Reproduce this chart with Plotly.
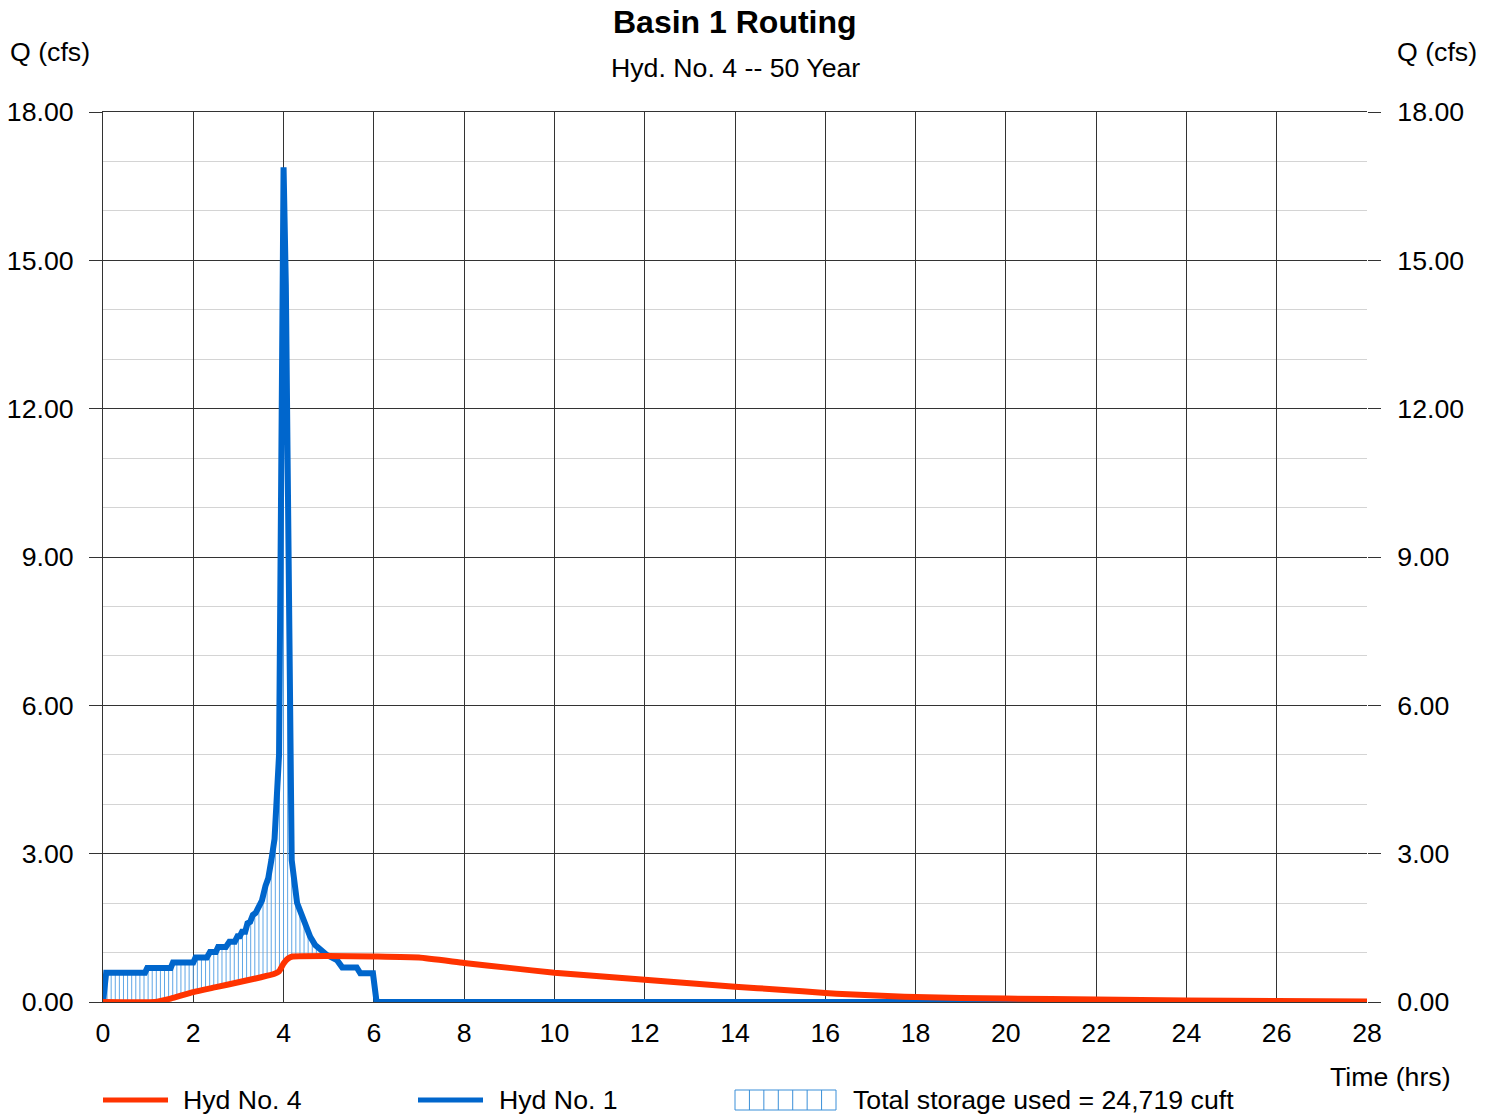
import numpy as np
import plotly.graph_objects as go

# ---------------- data ----------------
# Hyd No. 1 (inflow)
inflow_t = [0.00, 0.07, 0.93, 0.98, 1.50, 1.55, 2.00, 2.05, 2.30, 2.37, 2.50, 2.55, 2.72, 2.80,
            2.92, 2.98, 3.03, 3.08, 3.15, 3.20, 3.26, 3.32, 3.38, 3.45, 3.52, 3.60, 3.66, 3.73,
            3.80, 3.90, 4.00, 4.05, 4.10, 4.12, 4.14, 4.18, 4.30, 4.36, 4.45, 4.59, 4.70, 4.81,
            4.96, 5.18, 5.30, 5.62, 5.70, 5.98, 6.06, 28.00]
inflow_q = [0.00, 0.59, 0.59, 0.69, 0.69, 0.80, 0.80, 0.90, 0.90, 1.01, 1.01, 1.11, 1.11, 1.22,
            1.22, 1.33, 1.33, 1.42, 1.42, 1.59, 1.62, 1.76, 1.80, 1.95, 2.05, 2.35, 2.50, 2.87,
            3.30, 5.00, 16.88, 14.50, 10.00, 6.00, 4.00, 2.87, 2.00, 1.86, 1.60, 1.32, 1.15, 1.05,
            0.95, 0.85, 0.70, 0.70, 0.58, 0.58, 0.00, 0.00]

# Hyd No. 4 (outflow)
outflow_t = [0.0, 1.15, 1.5, 2.0, 2.5, 3.0, 3.5, 3.8, 3.9, 4.0, 4.1, 4.2, 5.0, 6.0, 7.0, 8.0, 9.0,
             10.0, 11.0, 12.0, 13.0, 14.0, 15.0, 16.0, 16.5, 17.0, 17.5, 18.0, 19.0, 20.0, 22.0,
             24.0, 26.0, 28.0]
outflow_q = [0.00, 0.00, 0.07, 0.20, 0.30, 0.40, 0.50, 0.57, 0.62, 0.78, 0.88, 0.92, 0.93, 0.92,
             0.90, 0.79, 0.69, 0.59, 0.52, 0.45, 0.38, 0.31, 0.25, 0.18, 0.155, 0.135, 0.115, 0.10,
             0.08, 0.07, 0.05, 0.03, 0.02, 0.01]

x_ticks = list(range(0, 29, 2))
y_ticks = [0, 3, 6, 9, 12, 15, 18]

title_text = "<b>Basin 1 Routing</b>"
subtitle_text = "Hyd. No. 4 -- 50 Year"
storage_label = "Total storage used = 24,719 cuft"

RED = "#ff3300"
BLUE = "#0066cc"
HATCH = "#5fa6e6"
FONT = "Liberation Sans, Arial, sans-serif"
FS = 26.7

# ---------------- hatch (storage) ----------------
hatch_times = np.arange(0.09, 4.95, 1 / 11)
hi = np.interp(hatch_times, inflow_t, inflow_q)
ho = np.interp(hatch_times, outflow_t, outflow_q)
hx, hy = [], []
for t, a, b in zip(hatch_times, ho, hi):
    if b > a:
        hx += [t, t, None]
        hy += [a, b, None]

fig = go.Figure()
fig.add_trace(go.Scatter(x=hx, y=hy, mode="lines", line=dict(color=HATCH, width=1),
                         hoverinfo="skip", showlegend=False))
fig.add_trace(go.Scatter(x=inflow_t, y=inflow_q, mode="lines", name="Hyd No. 1",
                         line=dict(color=BLUE, width=6), showlegend=False))
fig.add_trace(go.Scatter(x=outflow_t, y=outflow_q, mode="lines", name="Hyd No. 4",
                         line=dict(color=RED, width=6, shape="spline", smoothing=0.4),
                         showlegend=False))
# invisible trace for the right axis
fig.add_trace(go.Scatter(x=[0, 28], y=[0, 18], yaxis="y2", mode="lines",
                         line=dict(width=0), opacity=0, hoverinfo="skip", showlegend=False))

L, R, T, B = 103, 1367, 112, 1002
W, H = 1496, 1114
def px(x):
    return (x - L) / (R - L)
def py(y):
    return (B - y) / (B - T)

fig.update_layout(
    width=W, height=H,
    margin=dict(l=L, r=W - R, t=T, b=H - B, pad=0, autoexpand=False),
    paper_bgcolor="white", plot_bgcolor="white",
    font=dict(family=FONT, size=FS, color="black"),
    showlegend=False,
    xaxis=dict(range=[0, 28], tickvals=x_ticks, showgrid=True, gridcolor="#333333", gridwidth=1,
               zeroline=False, showline=True, linecolor="#333333", linewidth=1, mirror=True,
               ticks="", ticklabelstandoff=7, tickfont=dict(size=FS), automargin=False),
    yaxis=dict(range=[0, 18], tickvals=y_ticks, tickformat=".2f", showgrid=True,
               gridcolor="#333333", gridwidth=1, zeroline=False, showline=True,
               linecolor="#333333", linewidth=1, ticks="outside", ticklen=13,
               tickcolor="#333333", ticklabelstandoff=10, tickfont=dict(size=FS), automargin=False,
               minor=dict(dtick=1, showgrid=True, gridcolor="#d4d4d4", gridwidth=1, ticks="")),
    yaxis2=dict(range=[0, 18], tickvals=y_ticks, tickformat=".2f", overlaying="y", side="right",
                showgrid=False, zeroline=False, showline=False, ticks="outside", ticklen=13,
                tickcolor="#333333", ticklabelstandoff=11, tickfont=dict(size=FS), automargin=False),
)

ann = [
    dict(text=title_text, x=0.5, y=py(22), font=dict(size=32)),
    dict(text=subtitle_text, x=0.5, y=py(68), font=dict(size=FS)),
    dict(text="Q (cfs)", x=px(50), y=py(52), font=dict(size=FS)),
    dict(text="Q (cfs)", x=px(1437), y=py(52), font=dict(size=FS)),
    dict(text="Time (hrs)", x=px(1390), y=py(1077), font=dict(size=FS)),
    dict(text="Hyd No. 4", x=px(181), y=py(1100), xanchor="left", font=dict(size=FS)),
    dict(text="Hyd No. 1", x=px(497), y=py(1100), xanchor="left", font=dict(size=FS)),
    dict(text=storage_label, x=px(851), y=py(1100), xanchor="left", font=dict(size=FS)),
]
for a in ann:
    a.setdefault("xanchor", "center")
    fig.add_annotation(xref="paper", yref="paper", yanchor="middle", showarrow=False, **a)

shapes = [
    dict(type="line", x0=px(103), x1=px(168), y0=py(1100), y1=py(1100), line=dict(color=RED, width=5)),
    dict(type="line", x0=px(418), x1=px(483), y0=py(1100), y1=py(1100), line=dict(color=BLUE, width=5)),
    dict(type="rect", x0=px(735), x1=px(836), y0=py(1110), y1=py(1090),
         line=dict(color="#3a8fd8", width=1)),
]
for i in range(1, 7):
    xx = 735 + i * (101 / 7)
    shapes.append(dict(type="line", x0=px(xx), x1=px(xx), y0=py(1110), y1=py(1090),
                       line=dict(color="#3a8fd8", width=1)))
for s in shapes:
    fig.add_shape(xref="paper", yref="paper", **s)

fig.write_html("out.html", config={"displayModeBar": False},
               post_script="document.body.style.margin='0';document.body.style.overflow='hidden';")
